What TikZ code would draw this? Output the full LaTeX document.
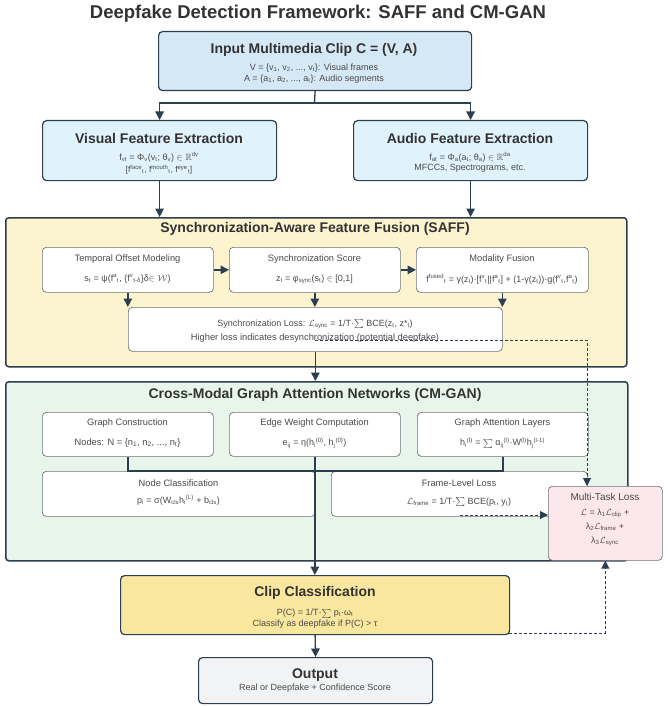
\documentclass[tikz,border=0pt]{standalone}
\usepackage{amssymb}
\usepackage{fontspec}
\setmainfont{Liberation Sans}
\usetikzlibrary{arrows.meta}
\definecolor{bordc}{HTML}{2C3E50}
\definecolor{inb}{HTML}{6E7378}
\definecolor{tc}{HTML}{333333}
\definecolor{sc}{HTML}{4A4A4A}
\definecolor{inpf}{HTML}{D5E8F6}
\definecolor{featf}{HTML}{E0F2FB}
\definecolor{safff}{HTML}{FCF3CF}
\definecolor{cmgf}{HTML}{E7F5EA}
\definecolor{mtlf}{HTML}{FCE8EC}
\definecolor{ccf}{HTML}{F9E79F}
\definecolor{outf}{HTML}{F2F3F4}
\newcommand{\fsz}[1]{\fontsize{#1}{#1}\selectfont}
\newcommand{\sbs}[1]{\textsubscript{#1}}
\newcommand{\sps}[1]{\textsuperscript{#1}}
\begin{document}
\begin{tikzpicture}[x=1pt,y=-1pt,
 bigbox/.style={draw=bordc,line width=1.2pt,rounded corners=4pt,anchor=north west,inner sep=0pt},
 panel/.style={draw=bordc,line width=1.5pt,rounded corners=3pt,anchor=north west,inner sep=0pt},
 inbox/.style={draw=inb,fill=white,line width=0.7pt,rounded corners=4pt,anchor=north west,inner sep=0pt},
 arr/.style={draw=bordc,line width=1.3pt,-{Triangle[length=8.5pt,width=8.5pt]}},
 ln/.style={draw=bordc,line width=1.3pt},
 dsh/.style={draw=bordc,line width=1pt,dash pattern=on 3pt off 2pt},
 ttl/.style={font=\bfseries\fsz{14},text=tc,inner sep=0pt},
 sm/.style={font=\fsz{9},text=sc,inner sep=0pt},
 ith/.style={font=\fsz{9.3},text=sc,inner sep=0pt},
]
\fill[white] (0,0) rectangle (669,706);
\useasboundingbox (0,0) rectangle (669,706);

\node[font=\bfseries\fsz{18.5},text=tc,inner sep=0pt] (title) at (318,14) {Deepfake Detection Framework: SAFF and CM-GAN};

% big boxes
\node[bigbox,fill=inpf,minimum width=313pt,minimum height=59pt] (inp) at (158,31) {};
\node[bigbox,fill=featf,minimum width=234pt,minimum height=60pt] (vis) at (42,120) {};
\node[bigbox,fill=featf,minimum width=234pt,minimum height=60pt] (aud) at (353,120) {};
\node[panel,fill=safff,minimum width=621pt,minimum height=149pt] (saff) at (5,217) {};
\node[panel,fill=cmgf,minimum width=622pt,minimum height=179pt] (cmg) at (5,381) {};
\node[bigbox,fill=ccf,minimum width=389pt,minimum height=59pt] (cc) at (120,575) {};
\node[bigbox,fill=outf,minimum width=234pt,minimum height=46pt] (out) at (198,657) {};

% SAFF inner
\node[inbox,minimum width=171pt,minimum height=45pt] (tom) at (42,247) {};
\node[inbox,minimum width=171pt,minimum height=45pt] (ssc) at (229,247) {};
\node[inbox,minimum width=172pt,minimum height=45pt] (mf) at (416,247) {};
\node[inbox,minimum width=374pt,minimum height=44pt] (sl) at (128,307) {};

% CM-GAN inner
\node[inbox,minimum width=171pt,minimum height=44pt] (gc) at (42,412) {};
\node[inbox,minimum width=171pt,minimum height=44pt] (ew) at (229,412) {};
\node[inbox,minimum width=171pt,minimum height=44pt] (ga) at (417,412) {};
\node[inbox,minimum width=273pt,minimum height=45pt] (nc) at (42,471) {};
\node[inbox,minimum width=256pt,minimum height=45pt] (fl) at (331,471) {};
\node[inbox,fill=mtlf,minimum width=114pt,minimum height=74pt] (mtl) at (548,486) {};

% texts
\node[ttl] (tinp) at (314,50) {Input Multimedia Clip C = (V, A)};
\node[sm] (tinp1) at (314,68.5) {V = \{v\sbs{1}, v\sbs{2}, ..., v\sbs{t}\}: Visual frames};
\node[sm] (tinp2) at (314,79) {A = \{a\sbs{1}, a\sbs{2}, ..., a\sbs{t}\}: Audio segments};

\node[ttl] (tvis) at (159,138) {Visual Feature Extraction};
\node[sm] (tvis1) at (159,157) {f\sbs{vt} = Φ\sbs{v}(v\sbs{t}; θ\sbs{v}) $\in\mathbb{R}$\sps{dv}};
\node[sm,font=\fsz{8.5}] (tvis2) at (159,169.5) {[f\sps{face}\sbs{t}, f\sps{mouth}\sbs{t}, f\sps{eye}\sbs{t}]};

\node[ttl] (taud) at (470,138) {Audio Feature Extraction};
\node[sm] (taud1) at (470,157) {f\sbs{at} = Φ\sbs{a}(a\sbs{t}; θ\sbs{a}) $\in\mathbb{R}$\sps{da}};
\node[sm] (taud2) at (470,168.5) {MFCCs, Spectrograms, etc.};

\node[ttl] (tsaff) at (315,229) {Synchronization-Aware Feature Fusion (SAFF)};
\node[ith] (ttom) at (127.5,259) {Temporal Offset Modeling};
\node[sm] (ttom1) at (127.5,279) {s\sbs{t} = ψ(f\sps{a}\sbs{t}, \{f\sps{v}\sbs{t-δ}\}δ$\in\mathcal{W}$)};
\node[ith] (tssc) at (314.5,259) {Synchronization Score};
\node[sm] (tssc1) at (314.5,279) {z\sbs{t} = φ\sbs{sync}(s\sbs{t}) $\in$ [0,1]};
\node[ith] (tmf) at (502,259) {Modality Fusion};
\node[sm] (tmf1) at (502,279) {f\sps{fused}\sbs{t} = γ(z\sbs{t})·[f\sps{v}\sbs{t}||f\sps{a}\sbs{t}] + (1-γ(z\sbs{t}))·g(f\sps{v}\sbs{t},f\sps{a}\sbs{t})};
\node[sm] (tsl1) at (315,324) {Synchronization Loss: $\mathcal{L}$\sbs{sync} = 1/T·$\sum$ BCE(z\sbs{t}, z*\sbs{t})};
\node[ith] (tsl2) at (315,338) {Higher loss indicates desynchronization (potential deepfake)};

\node[ttl] (tcmg) at (315,395) {Cross-Modal Graph Attention Networks (CM-GAN)};
\node[ith] (tgc) at (127.5,423) {Graph Construction};
\node[ith] (tgc1) at (127.5,443) {Nodes: N = \{n\sbs{1}, n\sbs{2}, ..., n\sbs{t}\}};
\node[ith] (tew) at (314.5,423) {Edge Weight Computation};
\node[sm] (tew1) at (314.5,443) {e\sbs{ij} = η(h\sbs{i}\sps{(0)}, h\sbs{j}\sps{(0)})};
\node[ith] (tga) at (502.5,423) {Graph Attention Layers};
\node[sm] (tga1) at (502.5,443) {h\sbs{i}\sps{(l)} = $\sum$ α\sbs{ij}\sps{(l)}·W\sps{(l)}h\sbs{j}\sps{(l-1)}};
\node[ith] (tnc) at (178.5,483) {Node Classification};
\node[sm] (tnc1) at (178.5,500) {p\sbs{i} = σ(W\sbs{cls}h\sbs{i}\sps{(L)} + b\sbs{cls})};
\node[ith] (tfl) at (459,483) {Frame-Level Loss};
\node[sm] (tfl1) at (459,502) {$\mathcal{L}$\sbs{frame} = 1/T·$\sum$ BCE(p\sbs{t}, y\sbs{t})};
\node[ith,font=\fsz{10}] (tmtl) at (605,497) {Multi-Task Loss};
\node[sm] (tmtl1) at (605,513) {$\mathcal{L}$ = λ\sbs{1}$\mathcal{L}$\sbs{clip} +};
\node[sm] (tmtl2) at (605,527) {λ\sbs{2}$\mathcal{L}$\sbs{frame} +};
\node[sm] (tmtl3) at (605,541) {λ\sbs{3}$\mathcal{L}$\sbs{sync}};

\node[ttl] (tcc) at (315,593) {Clip Classification};
\node[sm] (tcc1) at (315,613.5) {P(C) = 1/T·$\sum$ p\sbs{t}·ω\sbs{t}};
\node[sm] (tcc2) at (315,624) {Classify as deepfake if P(C) > τ};
\node[ttl] (tout) at (315,675) {Output};
\node[sm] (tout1) at (315,688) {Real or Deepfake + Confidence Score};

% connectors
\coordinate (j1) at (314.5,103);
\draw[ln] (inp.south) -- (j1);
\draw[arr] (j1) -| (vis.north);
\draw[arr] (j1) -| (aud.north);
\draw[arr] (vis.south) -- (vis.south |- saff.north);
\draw[arr] (aud.south) -- (aud.south |- saff.north);
\draw[arr] (tom.east) -- (ssc.west);
\draw[arr] (ssc.east) -- (mf.west);
\draw[arr] (tom.south) -- (tom.south |- sl.north);
\draw[arr] (ssc.south) -- (ssc.south |- sl.north);
\draw[arr] (mf.south) -- (mf.south |- sl.north);
\draw[arr] (sl.south) -- (sl.south |- cmg.north);

\draw[ln] (gc.south) -- (gc.south |- nc.north) -- (ew.south |- nc.north);
\draw[ln] (ga.south) -- (ga.south |- nc.north) -- (ew.south |- nc.north);
\draw[arr] (ew.south) -- (ew.south |- cc.north);

\coordinate (d1) at (315,340);
\coordinate (d2) at (587,340);
\draw[dsh,-{Triangle[length=8pt,width=8pt]}] (d1) -- (d2) -- (d2 |- mtl.north);
\coordinate (d3) at (460,515);
\draw[dsh,-{Triangle[length=8pt,width=8pt]}] (d3) -- (d3 -| mtl.west);
\coordinate (d4) at (509,633);
\draw[dsh,-{Triangle[length=8pt,width=8pt]}] (d4) -| (mtl.south);

\draw[arr] (cc.south) -- (out.north);
\end{tikzpicture}
\end{document}
